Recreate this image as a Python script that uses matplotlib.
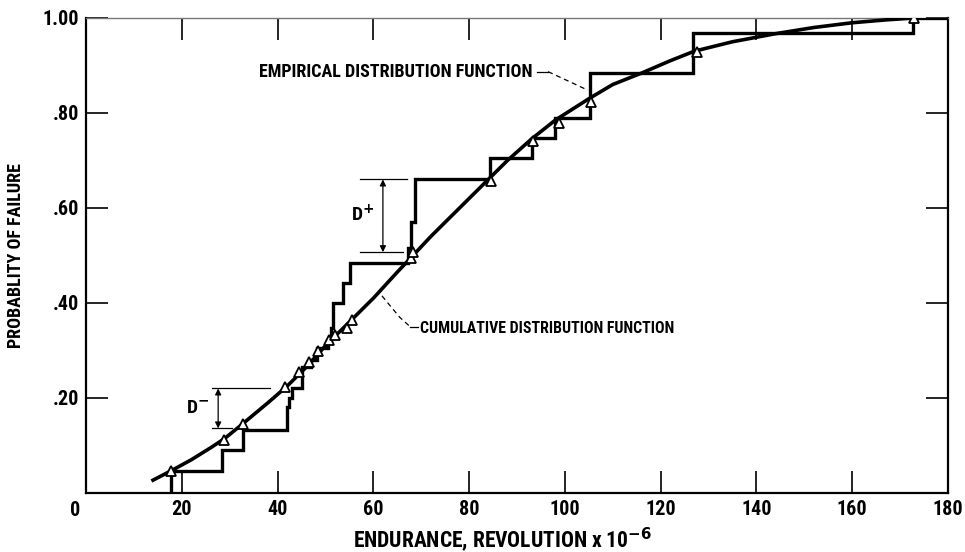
import matplotlib
matplotlib.use("Agg")
import matplotlib.pyplot as plt
from matplotlib import font_manager

# empirical distribution function (step levels after each jump)
step_x = [17.7, 17.7, 28.5, 32.8, 42.0, 42.4, 43.0, 45.2, 47.0, 48.3, 50.5, 51.2, 51.5,
          53.7, 55.1, 67.2, 67.8, 68.6, 84.3, 93.1, 98.0, 105.2, 126.7, 172.7, 180.0]
step_y = [0.0, 0.046, 0.09, 0.133, 0.18, 0.20, 0.22, 0.265, 0.28, 0.305, 0.32, 0.347, 0.40,
          0.442, 0.484, 0.515, 0.57, 0.66, 0.705, 0.747, 0.79, 0.884, 0.968, 1.0, 1.0]

# cumulative distribution function
cdf_x = [14, 18, 22, 26, 29, 33, 38, 42, 46, 50, 55, 60, 65, 68, 72, 76, 80, 84, 88, 93,
         98, 105, 110, 116, 122, 127, 135, 144, 152, 160, 167, 173, 180]
cdf_y = [0.027, 0.048, 0.07, 0.095, 0.115, 0.148, 0.19, 0.225, 0.265, 0.31, 0.36, 0.41,
         0.465, 0.497, 0.54, 0.58, 0.62, 0.66, 0.70, 0.745, 0.785, 0.83, 0.86, 0.884, 0.91,
         0.93, 0.95, 0.967, 0.98, 0.99, 0.996, 1.0, 1.0]

# failure points (triangles on the fitted curve)
pts_x = [17.7, 28.8, 32.8, 41.6, 44.5, 46.5, 48.5, 50.8, 52.0, 54.5, 55.5, 67.8, 68.3,
         84.6, 93.3, 98.8, 105.4, 127.6, 173.0]
pts_y = [0.046, 0.112, 0.145, 0.223, 0.255, 0.275, 0.298, 0.322, 0.333, 0.347, 0.364,
         0.495, 0.507, 0.657, 0.741, 0.779, 0.823, 0.928, 1.0]

x_ticks = [20, 40, 60, 80, 100, 120, 140, 160, 180]
y_ticks = [0.2, 0.4, 0.6, 0.8, 1.0]
y_labels = [".20", ".40", ".60", ".80", "1.00"]

# a narrow face looks closest to the lettering guide text; fall back if missing
names = {f.name for f in font_manager.fontManager.ttflist}
narrow = None
for cand in ['Liberation Sans Narrow', 'DejaVu Sans Condensed', 'Roboto Condensed',
             'Open Sans Condensed']:
    if cand in names:
        narrow = cand
        break
if narrow:
    plt.rcParams['font.family'] = [narrow, 'DejaVu Sans']
    scale = 1.0
else:
    plt.rcParams['font.family'] = ['DejaVu Sans']
    plt.rcParams['font.stretch'] = 'condensed'
    scale = 0.88
plt.rcParams['mathtext.fontset'] = 'dejavusans'
plt.rcParams['font.weight'] = 'bold'
plt.rcParams['axes.labelweight'] = 'bold'

fs_tick = 14.5 * scale

fig = plt.figure(figsize=(9.65, 5.52), dpi=100)
ax = fig.add_axes([0.0891, 0.1069, 0.8933, 0.8605])

ax.step(step_x, step_y, where='post', color='black', lw=2.4, solid_joinstyle='miter',
        zorder=3)
ax.plot(cdf_x, cdf_y, color='black', lw=2.6, zorder=3)
ax.plot(pts_x, pts_y, linestyle='none', marker='^', markersize=6.5,
        markerfacecolor='white', markeredgecolor='black', markeredgewidth=1.3, zorder=4)

ax.set_xlim(0, 180)
ax.set_ylim(0, 1.0)
ax.set_xticks(x_ticks)
ax.set_yticks(y_ticks)
ax.set_yticklabels(y_labels)
ax.tick_params(direction='in', length=16, width=1.2, top=True, right=True,
               labelsize=fs_tick, pad=5)
ax.text(-2.3, -0.016, "0", fontsize=fs_tick, ha='center', va='top', weight='bold')

for side in ['left', 'bottom', 'right']:
    ax.spines[side].set_linewidth(1.6)
ax.spines['top'].set_linewidth(1.0)
ax.spines['top'].set_color('#777777')

ax.set_xlabel("ENDURANCE, REVOLUTION x 10$^{-6}$", fontsize=15.5 * scale)
ax.xaxis.set_label_coords(0.483, -0.068)
ax.set_ylabel("PROBABLITY OF FAILURE", fontsize=13 * scale)
ax.yaxis.set_label_coords(-0.071, 0.5)

# D- marker
ax.plot([26.3, 38.4], [0.22, 0.22], color='black', lw=0.9)
ax.plot([26.3, 30.5], [0.136, 0.136], color='black', lw=0.9)
ax.annotate("", xy=(27.6, 0.22), xytext=(27.6, 0.136),
            arrowprops=dict(arrowstyle='<|-|>', color='black', lw=0.9,
                            mutation_scale=9, shrinkA=0, shrinkB=0))
ax.text(23.4, 0.176, "D$^{-}$", fontsize=14, ha='center', va='center')

# D+ marker
ax.plot([57.2, 67.0], [0.66, 0.66], color='black', lw=0.9)
ax.plot([57.2, 66.2], [0.507, 0.507], color='black', lw=0.9)
ax.annotate("", xy=(62.0, 0.66), xytext=(62.0, 0.507),
            arrowprops=dict(arrowstyle='<|-|>', color='black', lw=0.9,
                            mutation_scale=9, shrinkA=0, shrinkB=0))
ax.text(57.8, 0.585, "D$^{+}$", fontsize=14, ha='center', va='center')

# labels with leaders
ax.text(36.1, 0.887, "EMPIRICAL DISTRIBUTION FUNCTION", fontsize=13 * scale, ha='left',
        va='center')
ax.plot([94.2, 96.5], [0.887, 0.887], color='black', lw=0.9)
ax.plot([96.5, 104.8], [0.887, 0.848], color='black', lw=0.9, linestyle=(0, (4, 3)))

ax.text(69.8, 0.347, "CUMULATIVE DISTRIBUTION FUNCTION", fontsize=11.4 * scale, ha='left',
        va='center')
ax.plot([61.8, 65.5, 67.7], [0.415, 0.37, 0.35], color='black', lw=0.9,
        linestyle=(0, (4, 3)))
ax.plot([67.7, 69.3], [0.35, 0.35], color='black', lw=0.9)

fig.savefig("out.png", dpi=100)
